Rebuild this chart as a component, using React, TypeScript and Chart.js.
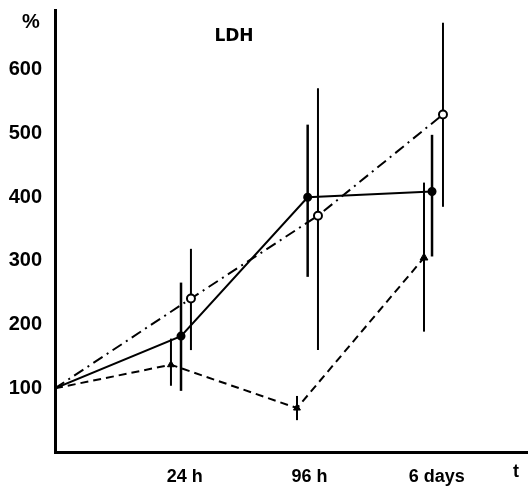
import React, { useEffect, useRef } from 'react';
import { Chart, registerables } from 'chart.js';

Chart.register(...registerables);

const timeLabels = ['24 h', '96 h', '6 days'];
const timeTickPositions = [1.02, 2, 3];
const yTickValues = [100, 200, 300, 400, 500, 600];

const solidX = [0, 0.99, 1.985, 2.962];
const solidY = [100, 182, 400, 409];
const solidLow: (number | null)[] = [null, 96, 275, 307];
const solidHigh: (number | null)[] = [null, 266, 514, 498];

const dashDotX = [0, 1.068, 2.066, 3.048];
const dashDotY = [100, 241, 371, 530];
const dashDotLow: (number | null)[] = [null, 160, 160, 385];
const dashDotHigh: (number | null)[] = [null, 319, 571, 674];

const dashedX = [0, 0.911, 1.901, 2.899];
const dashedY = [100, 137, 69, 305];
const dashedLow: (number | null)[] = [null, 104, 50, 189];
const dashedHigh: (number | null)[] = [null, 178, 88, 423];

const toPoints = (xs: number[], ys: number[]) => xs.map((x, i) => ({ x, y: ys[i] }));

const errorBarPlugin = {
  id: 'errorBars',
  beforeDatasetsDraw(chart: any) {
    const ctx = chart.ctx;
    const xs = chart.scales.x;
    const ys = chart.scales.y;
    chart.data.datasets.forEach((ds: any) => {
      const lows = ds.errLow as (number | null)[];
      const highs = ds.errHigh as (number | null)[];
      if (!lows) return;
      ctx.save();
      ctx.strokeStyle = '#000';
      ctx.lineWidth = ds.errWidth || 2;
      ctx.setLineDash([]);
      ds.data.forEach((p: any, i: number) => {
        const lo = lows[i];
        const hi = highs[i];
        if (lo == null || hi == null) return;
        const px = xs.getPixelForValue(p.x);
        ctx.beginPath();
        ctx.moveTo(px, ys.getPixelForValue(lo));
        ctx.lineTo(px, ys.getPixelForValue(hi));
        ctx.stroke();
      });
      ctx.restore();
    });
  },
};

const textPlugin = {
  id: 'extraText',
  afterDraw(chart: any) {
    const ctx = chart.ctx;
    ctx.save();
    ctx.fillStyle = '#000';
    ctx.textAlign = 'center';
    ctx.textBaseline = 'middle';
    ctx.font = 'bold 20px "Liberation Sans", sans-serif';
    ctx.fillText('%', 31, 22);
    ctx.font = 'bold 17px "DejaVu Sans", sans-serif';
    ctx.fillText('LDH', 234, 37);
    ctx.font = 'bold 18px "Liberation Sans", sans-serif';
    ctx.fillText('t', 516, 472);
    ctx.restore();
  },
};

export default function App() {
  const ref = useRef<HTMLCanvasElement | null>(null);

  useEffect(() => {
    if (!ref.current) return;
    const chart = new Chart(ref.current, {
      type: 'line',
      data: {
        datasets: [
          {
            label: 'solid',
            data: toPoints(solidX, solidY),
            borderColor: '#000',
            borderWidth: 2,
            backgroundColor: '#000',
            pointBackgroundColor: '#000',
            pointBorderColor: '#000',
            pointRadius: [0, 3.5, 3.5, 3.5],
            pointStyle: 'circle',
            tension: 0,
            errLow: solidLow,
            errHigh: solidHigh,
            errWidth: 2.5,
          } as any,
          {
            label: 'dashdot',
            data: toPoints(dashDotX, dashDotY),
            borderColor: '#000',
            borderWidth: 2,
            borderDash: [11, 5, 2, 5],
            pointBackgroundColor: '#fff',
            pointBorderColor: '#000',
            pointBorderWidth: 2,
            pointRadius: [0, 4, 4, 4],
            pointStyle: 'circle',
            tension: 0,
            errLow: dashDotLow,
            errHigh: dashDotHigh,
            errWidth: 2,
          } as any,
          {
            label: 'dashed',
            data: toPoints(dashedX, dashedY),
            borderColor: '#000',
            borderWidth: 2,
            borderDash: [8, 5],
            pointBackgroundColor: '#000',
            pointBorderColor: '#000',
            pointBorderWidth: 1,
            pointRadius: [0, 4, 4, 4.5],
            pointStyle: 'triangle',
            tension: 0,
            errLow: dashedLow,
            errHigh: dashedHigh,
            errWidth: 2,
          } as any,
        ],
      },
      options: {
        animation: false,
        responsive: false,
        devicePixelRatio: 1,
        layout: { autoPadding: false, padding: { top: 10, right: 0, left: 0, bottom: 0 } },
        plugins: {
          legend: { display: false },
          tooltip: { enabled: false },
          title: { display: false },
        },
        scales: {
          x: {
            type: 'linear',
            min: 0,
            max: 3.716,
            grid: { display: false, drawTicks: false },
            border: { display: true, color: '#000', width: 3 },
            afterBuildTicks: (scale: any) => {
              scale.ticks = timeTickPositions.map((v) => ({ value: v }));
            },
            afterFit: (scale: any) => {
              scale.height = 34;
              scale.paddingLeft = 0;
              scale.paddingRight = 0;
            },
            ticks: {
              autoSkip: false,
              maxRotation: 0,
              padding: 14,
              color: '#000',
              font: { family: '"Liberation Sans", sans-serif', size: 18, weight: 'bold' },
              callback: (_v: any, i: number) => timeLabels[i],
            },
          },
          y: {
            type: 'linear',
            min: 0,
            max: 694,
            grid: { display: false, drawTicks: false },
            border: { display: true, color: '#000', width: 3 },
            afterBuildTicks: (scale: any) => {
              scale.ticks = yTickValues.map((v) => ({ value: v }));
            },
            afterFit: (scale: any) => {
              scale.width = 55;
              scale.paddingTop = 0;
              scale.paddingBottom = 0;
            },
            ticks: {
              autoSkip: false,
              padding: 13,
              color: '#000',
              font: { family: '"Liberation Sans", sans-serif', size: 20, weight: 'bold' },
              callback: (v: any) => String(v),
            },
          },
        },
      },
      plugins: [errorBarPlugin, textPlugin],
    });
    return () => chart.destroy();
  }, []);

  return (
    <div style={{ position: 'fixed', left: 0, top: 0, width: 528, height: 486, background: '#fff' }}>
      <canvas ref={ref} width={528} height={486} style={{ display: 'block' }} />
    </div>
  );
}
